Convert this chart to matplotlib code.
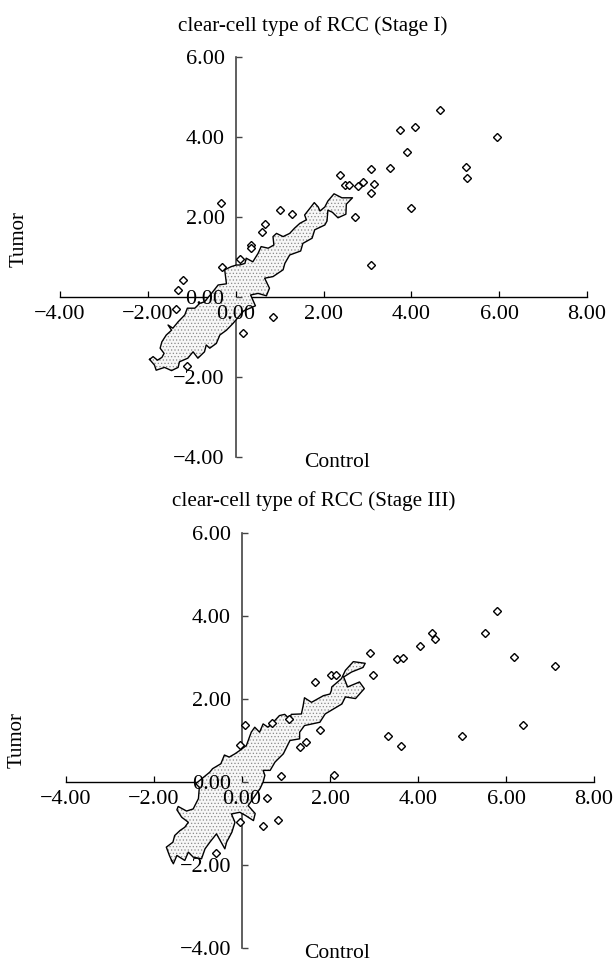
import matplotlib
matplotlib.use("Agg")
import matplotlib.pyplot as plt

plt.rcParams['font.family'] = ['Liberation Serif', 'DejaVu Serif']
plt.rcParams['hatch.linewidth'] = 0.5

W, H = 614, 961

x_ticks = [-4, -2, 0, 2, 4, 6, 8]
y_ticks = [-4, -2, 0, 2, 4, 6]
x_labels = ["\u22124.00", "\u22122.00", "0.00", "2.00", "4.00", "6.00", "8.00"]
y_labels = ["\u22124.00", "\u22122.00", "0.00", "2.00", "4.00", "6.00"]

# stage I outliers
s1_x = [4.66, 5.95, 4.08, 3.75, 3.90, 5.24, 5.26, 3.52, 3.09, 3.15, 3.09, 4.00, 3.09, 2.38, 2.50, 2.58,
        2.90, 2.78, 2.71, 1.02, 1.29, -0.34, 0.66, 0.59, 0.36, 0.34, 0.09, -0.30, -1.19, -1.31, -1.37,
        0.84, 0.16, -1.10]
s1_y = [4.67, 4.00, 4.24, 4.17, 3.63, 3.26, 2.98, 3.23, 3.19, 2.83, 2.59, 2.22, 0.81, 3.04, 2.80, 2.80,
        2.87, 2.77, 2.00, 2.18, 2.07, 2.35, 1.82, 1.63, 1.30, 1.22, 0.96, 0.75, 0.43, 0.18, -0.31,
        -0.49, -0.89, -1.72]

# stage I dense region outline
s1_cx = [-1.96, -1.88, -1.78, -1.68, -1.63, -1.72, -1.68, -1.58, -1.46, -1.54, -1.43, -1.31, -1.16, -1.10,
         -0.93, -0.82, -0.71, -0.55, -0.40, -0.21, -0.25, -0.10, 0.02, 0.09, 0.21, 0.24, 0.39, 0.51, 0.58,
         0.74, 0.87, 0.85, 0.93, 1.08, 1.23, 1.34, 1.46, 1.61, 1.57, 1.72, 1.79, 1.88, 1.92, 2.03, 2.10,
         2.24, 2.42, 2.66, 2.52, 2.51, 2.33, 2.20, 2.10, 2.08, 2.03, 1.80, 1.74, 1.53, 1.48, 1.23, 1.12,
         1.08, 0.85, 0.66, 0.77, 0.70, 0.51, 0.34, 0.45, 0.18, -0.06, -0.21, -0.36, -0.44, -0.59, -0.67,
         -0.71, -0.86, -0.97, -1.09, -1.28, -1.31, -1.46, -1.62, -1.81, -1.85]
s1_cy = [-1.56, -1.49, -1.58, -1.51, -1.41, -1.28, -1.12, -0.95, -0.83, -0.70, -0.78, -0.62, -0.45, -0.28,
         -0.28, -0.16, -0.12, 0.09, 0.30, 0.33, 0.68, 0.76, 0.80, 0.80, 0.84, 0.97, 0.88, 1.09, 1.26,
         1.22, 1.30, 1.51, 1.59, 1.51, 1.59, 1.72, 1.84, 1.93, 2.05, 2.26, 2.36, 2.25, 2.15, 2.25, 2.40,
         2.58, 2.48, 2.48, 2.32, 2.07, 1.98, 2.12, 2.17, 1.90, 1.80, 1.68, 1.47, 1.34, 1.15, 1.05, 0.84,
         0.68, 0.51, 0.47, 0.22, 0.03, 0.09, 0.05, -0.22, -0.35, -0.66, -0.83, -0.95, -1.16, -1.28, -1.20,
         -1.37, -1.53, -1.37, -1.53, -1.62, -1.76, -1.84, -1.76, -1.83, -1.70]

# stage III outliers
s3_x = [5.80, 5.52, 4.32, 4.38, 4.04, 6.18, 7.12, 2.92, 3.53, 3.66, 2.98, 1.65, 2.02, 2.13, 6.39, 5.00,
        3.32, 3.62, 1.78, 1.46, 1.32, 0.07, 0.68, -0.04, 0.89, 2.08, 0.57, 0.81, 0.47, -0.04, -0.59, 1.06]
s3_y = [4.12, 3.60, 3.60, 3.44, 3.27, 3.02, 2.80, 3.12, 2.96, 2.99, 2.59, 2.41, 2.57, 2.57, 1.38, 1.10,
        1.10, 0.86, 1.26, 0.96, 0.84, 1.37, 1.42, 0.90, 0.15, 0.17, -0.38, -0.92, -1.07, -0.97, -1.71, 1.53]

# stage III dense region outline
s3_cx = [-1.60, -1.65, -1.72, -1.57, -1.53, -1.41, -1.30, -1.22, -1.37, -1.48, -1.45, -1.26, -1.11, -0.99,
         -0.97, -1.05, -0.73, -0.67, -0.48, -0.40, -0.29, -0.16, -0.05, 0.10, 0.21, 0.29, 0.40, 0.48, 0.59,
         0.71, 0.85, 0.97, 1.08, 1.12, 1.35, 1.39, 1.42, 1.58, 1.85, 2.00, 2.03, 2.04, 2.26, 2.35, 2.53,
         2.80, 2.75, 2.49, 2.31, 2.40, 2.67, 2.78, 2.58, 2.35, 2.27, 2.08, 1.89, 1.77, 1.42, 1.31, 1.31,
         1.09, 0.94, 0.75, 0.64, 0.48, 0.52, 0.48, 0.41, 0.14, 0.30, 0.26, 0.07, -0.05, -0.24, -0.16, -0.23,
         -0.35, -0.39, -0.58, -0.73, -0.84, -0.92, -1.11, -1.22, -1.30, -1.48, -1.56]
s3_cy = [-1.89, -1.77, -1.57, -1.45, -1.29, -1.17, -1.09, -0.97, -0.85, -0.67, -0.59, -0.70, -0.65, -0.40,
         -0.13, -0.04, 0.24, 0.32, 0.44, 0.65, 0.60, 0.68, 0.76, 0.88, 1.20, 1.32, 1.20, 1.40, 1.32,
         1.44, 1.60, 1.63, 1.52, 1.63, 1.64, 1.84, 2.03, 1.92, 2.08, 2.12, 2.20, 2.29, 2.49, 2.69, 2.90,
         2.86, 2.76, 2.65, 2.53, 2.29, 2.41, 2.25, 2.01, 2.05, 1.88, 1.76, 1.64, 1.44, 1.36, 1.20, 1.04,
         1.00, 0.68, 0.48, 0.28, 0.28, 0.16, 0.00, -0.16, -0.57, -0.76, -0.93, -0.80, -0.73, -0.77, -0.97, -1.21,
         -1.45, -1.61, -1.25, -1.45, -1.61, -1.85, -1.81, -1.69, -1.89, -1.77, -1.97]


def draw_panel(box, title, title_pos, ylab_pos, xlab_pos, px, py, cx, cy):
    left, top, width, height = box
    ax = fig.add_axes([left / W, 1 - (top + height) / H, width / W, height / H])
    ax.set_xlim(-4, 8)
    ax.set_ylim(-4, 6)
    ax.patch.set_alpha(0)

    for name in ['top', 'right']:
        ax.spines[name].set_visible(False)
    ax.spines['left'].set_position(('data', 0))
    ax.spines['bottom'].set_position(('data', 0))
    ax.spines['left'].set_color('#444444')
    ax.spines['left'].set_linewidth(1.2)
    ax.spines['bottom'].set_linewidth(1.0)
    # the dense region hides the axis lines, the numbers stay on top
    ax.spines['left'].set_zorder(1.5)
    ax.spines['bottom'].set_zorder(1.5)
    ax.xaxis.set_zorder(10)
    ax.yaxis.set_zorder(10)

    ax.set_xticks(x_ticks)
    ax.set_xticklabels(x_labels)
    ax.set_yticks(y_ticks)
    ax.set_yticklabels(y_labels)
    ax.tick_params(axis='x', direction='in', length=4, width=0.9, pad=6, labelsize=16)
    ax.tick_params(axis='y', direction='in', length=4, width=1.0, pad=8, labelsize=16, color='#444444')

    ax.fill(cx, cy, facecolor='#f7f7f7', edgecolor='#8a8a8a', hatch='.....', linewidth=0, zorder=2)
    ax.plot(cx + cx[:1], cy + cy[:1], color='black', lw=1.0, zorder=3)
    ax.plot(px, py, linestyle='none', marker='D', ms=3.9, mfc='white', mec='black', mew=1.0, zorder=4)

    ax.text(title_pos[0], title_pos[1], title, ha='center', va='center', fontsize=15.2)
    ax.text(ylab_pos[0], ylab_pos[1], 'Tumor', rotation=90, ha='center', va='center', fontsize=15)
    ax.text(xlab_pos[0], xlab_pos[1], 'Control', ha='center', va='center', fontsize=15.5)


fig = plt.figure(figsize=(W / 100, H / 100), dpi=100)

draw_panel((60, 57, 527, 400), 'clear-cell type of RCC (Stage I)', (1.76, 6.78), (-4.92, 1.44), (2.3, -4.14),
           s1_x, s1_y, s1_cx, s1_cy)
draw_panel((66, 533, 528, 415), 'clear-cell type of RCC (Stage III)', (1.64, 6.76), (-5.1, 1.0), (2.15, -4.13),
           s3_x, s3_y, s3_cx, s3_cy)

fig.savefig('out.png', dpi=100)
